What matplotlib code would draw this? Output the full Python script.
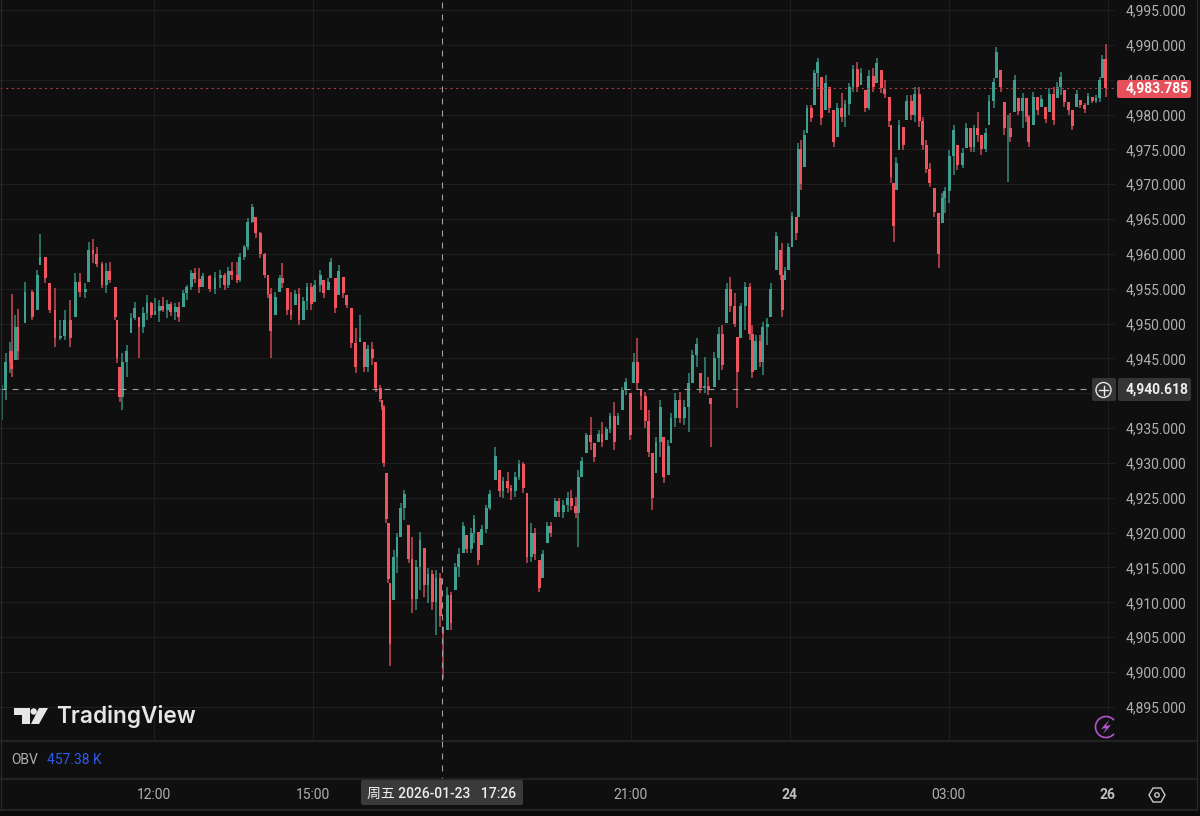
import numpy as np
import matplotlib
matplotlib.use("Agg")
import matplotlib.pyplot as plt
from matplotlib.patches import FancyBboxPatch, Polygon, Circle, Arc, Rectangle

plt.rcParams['font.family'] = ['Roboto', 'Noto Sans CJK SC', 'DejaVu Sans']

# bar time in minutes after 09:00
minutes = [8, 12, 17, 19, 23, 26, 34, 42, 48, 51, 57,
           62, 68, 74, 79, 85, 91, 96, 102, 106, 111, 115,
           121, 126, 130, 136, 138, 141, 144, 149, 154, 158, 163, 168, 172, 177,
           181, 186, 190, 195, 199, 204, 208, 213, 217, 222, 226, 231, 235,
           243, 249, 255, 260, 264, 268, 274, 277, 282, 286, 291, 295,
           300, 305, 309, 312, 317, 322, 325, 331, 335, 340, 344, 349, 353, 358,
           362, 368, 372, 377, 380, 385, 389, 394, 398, 403, 408, 413, 418,
           422, 427, 431, 436, 438, 440, 443, 445, 447, 451, 455, 459, 463, 468, 472, 477,
           481, 486, 490, 495, 499, 504, 507, 512, 516, 521, 525, 530, 534, 539,
           542, 547, 551, 556, 560, 566, 571, 575, 580, 584, 589, 593, 598,
           602, 607, 611, 616, 620, 625, 629, 634, 638, 643, 648, 652, 657,
           660, 664, 669, 674, 678, 683, 687, 692, 696, 701, 705, 710, 714, 719,
           723, 727, 731, 736, 740, 744, 748, 753, 757, 762, 765, 770, 775,
           780, 785, 789, 794, 798, 803, 807, 810, 814, 819, 823, 828, 832, 837,
           840, 844, 849, 854, 857, 861, 866, 869, 874, 878, 884, 889, 891, 894, 898,
           902, 907, 909, 912, 916, 919, 924, 927, 931, 935, 940, 944, 949, 953, 958,
           962, 967, 971, 976, 980, 985, 989, 994, 998, 1003, 1007, 1012, 1014, 1017,
           1020, 1023, 1028, 1032, 1037, 1041, 1046, 1050, 1054, 1058, 1063, 1068, 1072, 1075,
           1080, 1085, 1089, 1095, 1099, 1104, 1108, 1112, 1116, 1121, 1125, 1130, 1133,
           1138, 1142, 1146, 1149, 1154, 1158, 1163, 1167, 1170, 1175, 1180, 1184, 1189,
           1193, 1198, 1202, 1206, 1210, 1215, 1219, 1224, 1228, 1233, 1237, 1242, 1246, 1250, 1253, 1257]

highs = [4941.2, 4945.8, 4947.4, 4954.2, 4951.2, 4952.1, 4956.0, 4954.8, 4957.7, 4962.8, 4959.6,
         4955.8, 4955.1, 4950.5, 4951.9, 4953.4, 4957.3, 4957.3, 4955.8, 4961.7, 4962.1, 4961.0,
         4958.8, 4958.7, 4958.8, 4955.2, 4950.5, 4943.8, 4945.8, 4946.9, 4951.5, 4953.1, 4950.9, 4952.4, 4954.1, 4953.1,
         4953.7, 4953.4, 4953.8, 4953.4, 4953.1, 4953.0, 4953.1, 4954.8, 4955.5, 4957.7, 4958.0, 4958.0, 4957.3,
         4957.0, 4957.4, 4957.7, 4957.3, 4958.1, 4958.8, 4958.8, 4960.1, 4961.3, 4965.1, 4967.2, 4965.3,
         4963.1, 4960.1, 4957.0, 4955.1, 4954.5, 4957.0, 4958.7, 4955.1, 4954.5, 4954.8, 4955.1, 4953.8, 4955.8, 4955.8,
         4956.3, 4957.7, 4956.3, 4956.5, 4959.4, 4956.5, 4958.4, 4956.7, 4954.1, 4952.2, 4949.4, 4951.2, 4947.4,
         4946.9, 4947.4, 4944.5, 4941.2, 4939.0, 4938.3, 4928.6, 4921.4, 4912.8, 4917.5, 4920.0, 4924.2, 4926.1, 4921.1, 4919.4, 4916.1,
         4920.1, 4917.8, 4914.9, 4914.6, 4914.6, 4914.2, 4906.5, 4912.2, 4911.5, 4915.6, 4917.8, 4921.5, 4919.6, 4920.7,
         4922.5, 4920.1, 4921.1, 4924.0, 4926.1, 4932.3, 4929.0, 4928.0, 4928.7, 4926.8, 4928.7, 4930.4, 4930.1,
         4925.7, 4921.4, 4920.7, 4916.1, 4917.5, 4921.5, 4921.5, 4925.0, 4925.0, 4924.7, 4925.8, 4926.1, 4925.1,
         4929.0, 4930.8, 4934.3, 4936.6, 4932.9, 4934.7, 4935.9, 4935.2, 4937.2, 4938.8, 4937.2, 4940.9, 4942.2, 4940.0,
         4945.8, 4947.9, 4940.5, 4940.2, 4937.6, 4931.4, 4933.7, 4939.0, 4933.7, 4933.3, 4937.2, 4940.0, 4940.2,
         4939.0, 4942.9, 4946.2, 4947.9, 4942.9, 4945.2, 4942.3, 4939.3, 4945.9, 4949.5, 4949.8, 4955.8, 4956.7, 4954.4,
         4948.1, 4953.0, 4956.0, 4955.8, 4949.8, 4948.4, 4948.4, 4950.2, 4950.8, 4955.8, 4963.1, 4960.6, 4961.6, 4958.1, 4961.6,
         4966.0, 4965.3, 4975.9, 4976.3, 4977.8, 4981.4, 4981.4, 4986.4, 4988.1, 4985.4, 4985.7, 4983.9, 4980.6, 4981.6, 4983.1,
         4982.1, 4984.5, 4987.1, 4987.5, 4986.7, 4983.5, 4986.4, 4986.7, 4988.1, 4986.4, 4984.9, 4982.5, 4978.5, 4970.2,
         4973.9, 4979.2, 4978.2, 4982.8, 4982.8, 4983.9, 4983.9, 4979.6, 4976.3, 4973.0, 4969.5, 4965.9, 4968.7, 4969.6,
         4974.9, 4978.5, 4975.6, 4975.2, 4978.8, 4978.1, 4978.5, 4980.4, 4977.1, 4978.1, 4982.8, 4985.2, 4989.7,
         4986.4, 4981.8, 4979.9, 4980.2, 4985.7, 4982.4, 4983.1, 4982.4, 4979.9, 4983.2, 4982.5, 4982.8, 4981.1,
         4983.8, 4983.9, 4984.7, 4986.1, 4983.5, 4981.8, 4980.6, 4983.5, 4982.1, 4981.6, 4983.1, 4982.5, 4982.8, 4985.4, 4988.5, 4990.1]

lows = [4936.2, 4939.0, 4942.9, 4942.3, 4944.8, 4944.8, 4950.1, 4950.5, 4952.0, 4958.4, 4955.8,
        4951.5, 4946.6, 4947.6, 4947.6, 4946.6, 4950.9, 4953.8, 4953.7, 4956.0, 4958.7, 4958.1,
        4955.1, 4954.4, 4955.8, 4950.5, 4944.3, 4938.7, 4937.6, 4942.3, 4948.7, 4950.5, 4945.1, 4948.7, 4950.5, 4950.8,
        4951.2, 4950.2, 4951.7, 4950.8, 4951.1, 4950.5, 4950.2, 4952.4, 4953.4, 4954.8, 4955.8, 4954.4, 4955.2,
        4954.5, 4954.2, 4955.1, 4954.8, 4955.1, 4956.3, 4955.8, 4956.0, 4959.1, 4960.6, 4964.4, 4962.3,
        4959.4, 4956.5, 4953.7, 4945.1, 4951.2, 4954.5, 4955.1, 4951.2, 4950.5, 4952.7, 4949.8, 4950.5, 4951.9, 4951.9,
        4953.1, 4954.5, 4953.7, 4954.8, 4956.5, 4951.5, 4954.1, 4953.7, 4952.2, 4946.5, 4942.9, 4947.4, 4943.0,
        4943.0, 4944.1, 4940.2, 4938.7, 4937.6, 4929.4, 4921.4, 4912.8, 4900.9, 4910.3, 4914.2, 4919.4, 4921.8, 4915.6, 4908.5, 4908.9,
        4911.8, 4910.8, 4909.9, 4908.9, 4905.3, 4906.5, 4899.0, 4906.0, 4906.0, 4911.8, 4913.6, 4917.1, 4917.1, 4917.1,
        4918.5, 4915.4, 4918.2, 4920.0, 4923.2, 4927.5, 4925.1, 4925.0, 4925.7, 4924.7, 4925.1, 4927.5, 4925.7,
        4915.6, 4915.8, 4916.1, 4911.5, 4913.5, 4918.5, 4919.4, 4922.2, 4922.2, 4922.1, 4923.0, 4923.2, 4922.1,
        4917.9, 4928.0, 4931.4, 4931.9, 4930.1, 4933.0, 4932.3, 4933.3, 4934.3, 4931.9, 4935.4, 4937.6, 4939.7, 4933.3,
        4941.5, 4940.5, 4937.6, 4935.0, 4930.8, 4923.3, 4928.6, 4930.8, 4927.1, 4928.3, 4932.9, 4935.2, 4935.7,
        4935.4, 4934.4, 4941.5, 4943.8, 4940.0, 4940.0, 4939.7, 4932.3, 4940.9, 4941.9, 4943.3, 4950.1, 4951.7, 4949.5,
        4937.9, 4947.9, 4949.1, 4947.6, 4942.2, 4943.3, 4943.8, 4942.6, 4946.9, 4950.9, 4957.7, 4956.3, 4950.9, 4956.3, 4957.7,
        4961.0, 4962.0, 4965.3, 4969.2, 4972.5, 4977.3, 4978.9, 4981.4, 4983.9, 4978.5, 4980.6, 4980.2, 4975.3, 4976.8, 4978.9,
        4978.2, 4979.9, 4983.2, 4983.2, 4984.2, 4980.4, 4980.6, 4983.2, 4984.5, 4983.1, 4982.4, 4978.2, 4970.2, 4961.7,
        4969.2, 4974.9, 4974.9, 4979.2, 4979.2, 4978.9, 4978.2, 4974.9, 4971.6, 4969.6, 4965.3, 4958.0, 4964.4, 4965.9,
        4967.3, 4971.3, 4972.0, 4972.3, 4975.2, 4974.6, 4974.6, 4976.1, 4974.2, 4974.6, 4978.5, 4980.9, 4985.2,
        4983.2, 4977.1, 4970.3, 4976.1, 4980.4, 4979.9, 4978.1, 4978.9, 4975.3, 4978.5, 4979.9, 4981.1, 4978.8,
        4980.4, 4978.5, 4982.4, 4982.8, 4981.1, 4979.9, 4977.8, 4981.1, 4980.9, 4980.2, 4981.4, 4981.6, 4981.6, 4981.8, 4985.2, 4982.5]

closes = [4940.5, 4944.5, 4946.0, 4943.5, 4949.5, 4946.0, 4954.5, 4951.0, 4957.0, 4959.5, 4956.5,
          4952.0, 4948.0, 4948.2, 4950.5, 4948.0, 4956.0, 4954.5, 4955.0, 4960.5, 4960.0, 4958.6,
          4955.6, 4957.5, 4956.2, 4951.0, 4945.0, 4939.5, 4944.5, 4946.0, 4950.8, 4952.3, 4949.5, 4951.5, 4953.0, 4951.3,
          4951.8, 4952.5, 4952.0, 4952.8, 4951.6, 4952.4, 4951.0, 4954.4, 4955.2, 4957.3, 4956.4, 4955.2, 4956.8,
          4955.0, 4956.6, 4957.0, 4955.6, 4957.5, 4957.0, 4956.2, 4959.5, 4961.0, 4964.6, 4966.8, 4963.0,
          4960.0, 4957.0, 4954.2, 4949.0, 4953.8, 4956.5, 4955.8, 4952.0, 4951.2, 4954.2, 4950.5, 4953.2, 4955.2, 4952.8,
          4955.6, 4957.0, 4954.4, 4956.0, 4958.8, 4952.2, 4957.6, 4954.4, 4952.6, 4947.2, 4943.8, 4948.0, 4943.8,
          4946.3, 4945.0, 4940.8, 4939.2, 4938.0, 4930.0, 4922.0, 4913.4, 4904.0, 4916.5, 4919.4, 4923.5, 4925.6, 4916.2, 4910.5, 4915.0,
          4919.0, 4912.5, 4914.0, 4910.0, 4913.5, 4908.0, 4905.5, 4911.0, 4907.0, 4915.0, 4917.0, 4921.0, 4917.6, 4920.0,
          4922.0, 4916.0, 4920.5, 4923.5, 4925.6, 4931.0, 4926.0, 4927.4, 4926.4, 4926.0, 4928.0, 4929.8, 4926.4,
          4916.5, 4920.0, 4917.0, 4912.0, 4917.0, 4921.0, 4920.0, 4924.5, 4923.0, 4924.0, 4925.0, 4923.8, 4922.8,
          4928.0, 4930.3, 4934.0, 4933.0, 4930.8, 4934.2, 4933.0, 4934.8, 4936.8, 4933.0, 4936.8, 4940.4, 4941.6, 4934.0,
          4944.5, 4941.5, 4939.6, 4936.0, 4931.5, 4925.0, 4933.0, 4938.0, 4928.0, 4932.5, 4936.5, 4939.0, 4936.5,
          4938.0, 4941.5, 4945.5, 4947.0, 4940.8, 4941.0, 4940.4, 4938.4, 4945.0, 4948.5, 4944.0, 4955.0, 4952.5, 4950.0,
          4943.0, 4952.5, 4955.3, 4948.5, 4943.0, 4947.5, 4944.5, 4949.5, 4950.0, 4955.0, 4962.5, 4957.0, 4952.0, 4957.6, 4961.0,
          4965.5, 4963.0, 4975.0, 4970.0, 4977.0, 4981.0, 4979.5, 4986.0, 4987.5, 4979.5, 4984.5, 4981.0, 4976.0, 4981.0, 4979.6,
          4981.5, 4984.0, 4986.5, 4984.0, 4986.0, 4981.0, 4985.5, 4984.0, 4987.4, 4983.8, 4983.0, 4979.0, 4971.0, 4964.0,
          4973.0, 4978.5, 4975.6, 4982.0, 4980.0, 4983.0, 4979.0, 4975.6, 4972.2, 4970.2, 4966.0, 4960.0, 4968.0, 4969.0,
          4974.0, 4977.8, 4972.8, 4974.5, 4978.0, 4975.4, 4978.0, 4977.0, 4975.0, 4977.4, 4982.0, 4984.6, 4989.0,
          4984.0, 4978.0, 4978.0, 4976.8, 4985.0, 4980.5, 4982.4, 4979.6, 4976.0, 4982.5, 4980.6, 4982.2, 4979.4,
          4983.0, 4979.2, 4984.0, 4985.4, 4981.8, 4980.6, 4978.4, 4983.0, 4981.4, 4980.8, 4982.6, 4982.0, 4982.4, 4985.0, 4988.0, 4983.785]

price_ticks = [4995, 4990, 4985, 4980, 4975, 4970, 4965, 4960, 4955, 4950, 4945, 4940, 4935,
               4930, 4925, 4920, 4915, 4910, 4905, 4900, 4895]
time_ticks = [180, 360, 720, 900, 1080, 1260]
time_labels = ['12:00', '15:00', '21:00', '24', '03:00', '26']
last_price = 4983.785
cross_price = 4940.618
cross_minute = 506

BG = '#0f0f0f'
UP = '#3f9e8d'
DOWN = '#f0545e'
UP_WICK = '#2f7d70'
DOWN_WICK = '#b8424b'
GRID = '#1e1e1e'
TEXT = '#b0b0b0'


def candles(ax):
    t = np.array(minutes, dtype=float)
    h = np.array(highs)
    l = np.array(lows)
    c = np.array(closes)
    o = np.clip(np.r_[c[0], c[:-1]], l, h)
    up = c >= o
    ax.vlines(t[up], l[up], h[up], color=UP_WICK, lw=1.25, zorder=2)
    ax.vlines(t[~up], l[~up], h[~up], color=DOWN_WICK, lw=1.25, zorder=2)
    w = 3.2
    ax.bar(t[up], np.abs(c - o)[up], bottom=np.minimum(o, c)[up], width=w, color=UP, lw=0, zorder=3)
    ax.bar(t[~up], np.abs(c - o)[~up], bottom=np.minimum(o, c)[~up], width=w, color=DOWN, lw=0, zorder=3)


def main_pane(fig):
    ax = fig.add_axes([0, 1 - 740 / 816, 1115 / 1200, 740 / 816], facecolor=BG)
    ax.set_xlim(5.66, 1267.5)
    ax.set_ylim(4890.24, 4996.435)
    for s in ax.spines.values():
        s.set_visible(False)
    ax.set_xticks(time_ticks)
    ax.set_yticks(price_ticks)
    ax.set_xticklabels([])
    ax.yaxis.tick_right()
    # 4,940 sits hidden behind the crosshair label
    ax.set_yticklabels(['' if p == 4940 else '{:,.3f}'.format(p) for p in price_ticks])
    ax.tick_params(axis='y', length=0, pad=8, labelsize=10, labelcolor=TEXT)
    ax.tick_params(axis='x', length=0)
    ax.grid(True, color=GRID, lw=0.8)
    ax.set_axisbelow(True)
    candles(ax)
    ax.axhline(last_price, color='#a83c44', lw=0.8, dashes=(2, 3), zorder=4)
    ax.axhline(cross_price, xmax=1090 / 1115, color='#a0a0a0', lw=0.8, dashes=(5.4, 5.4), zorder=5)
    ax.plot([cross_minute, cross_minute], [4890.24, 4996.435], color='#a0a0a0', lw=0.8,
            dashes=(5.4, 5.4), zorder=5)
    return ax


def overlay(fig):
    ov = fig.add_axes([0, 0, 1, 1], facecolor='none')
    ov.set_xlim(0, 1200)
    ov.set_ylim(816, 0)
    ov.axis('off')

    # pane separators and bottom strip
    ov.add_patch(Rectangle((0, 810), 1200, 6, color='#0a0a0a', lw=0))
    for y in [741, 779, 810]:
        ov.plot([0, 1197], [y, y], color='#2a2a2a', lw=1.1)
    ov.plot([1, 1], [0, 810], color='#2a2a2a', lw=0.9)
    ov.plot([1197, 1197], [0, 810], color='#2a2a2a', lw=0.9)
    ov.plot([442, 442], [741, 778], color='#a0a0a0', lw=0.8, dashes=(5.4, 5.4))

    # OBV legend
    ov.text(11, 760, 'OBV', color=TEXT, fontsize=10, va='center')
    ov.text(47, 760, '457.38 K', color='#2f5bea', fontsize=10, va='center')

    # time axis
    xs = [154, 313, 631, 789, 948, 1107]
    for x, lab in zip(xs, time_labels):
        bold = lab in ('24', '26')
        ov.text(x, 795, lab, color='#c0c0c0' if bold else TEXT, fontsize=10, ha='center', va='center',
                fontweight='bold' if bold else 'normal')
    ov.add_patch(FancyBboxPatch((361, 780), 162, 25, boxstyle='round,pad=0,rounding_size=2',
                                color='#3a3a3a', lw=0))
    ov.text(442, 794, '周五 2026-01-23   17:26', color='#eeeeee', fontsize=10, ha='center', va='center',
            fontweight='medium', family=['Roboto', 'Noto Sans CJK SC', 'DejaVu Sans'])

    # last price and crosshair labels
    ov.add_patch(FancyBboxPatch((1117, 80), 74, 18, boxstyle='round,pad=0,rounding_size=2',
                                color='#e5505a', lw=0, zorder=6))
    ov.text(1126, 89, '4,983.785', color='white', fontsize=10, ha='left', va='center',
            fontweight='bold', zorder=7)
    ov.add_patch(FancyBboxPatch((1118, 378), 73, 23, boxstyle='round,pad=0,rounding_size=2',
                                color='#353535', lw=0, zorder=6))
    ov.text(1126, 390, '4,940.618', color='#eeeeee', fontsize=10, ha='left', va='center',
            fontweight='bold', zorder=7)
    ov.add_patch(FancyBboxPatch((1092, 378), 24, 23, boxstyle='round,pad=0,rounding_size=2',
                                color='#353535', lw=0, zorder=6))
    ov.add_patch(Circle((1103.5, 390), 7.5, fc='none', ec='#e8e8e8', lw=1, zorder=7))
    ov.plot([1099, 1108], [390, 390], color='#e8e8e8', lw=1, zorder=7)
    ov.plot([1103.5, 1103.5], [385.5, 394.5], color='#e8e8e8', lw=1, zorder=7)

    # settings hexagon
    hx = [1149, 1153, 1161, 1165, 1161, 1153]
    hy = [795, 788, 788, 795, 802, 802]
    ov.add_patch(Polygon(list(zip(hx, hy)), closed=True, fc='none', ec='#c8c8c8', lw=1))
    ov.add_patch(Circle((1157, 795), 2.2, fc='none', ec='#c8c8c8', lw=1))

    # lightning badge
    ov.add_patch(Arc((1106, 727), 21, 21, theta1=40, theta2=320, ec='#b455d0', lw=1.2))
    ov.add_patch(Polygon([(1109, 720), (1101, 729), (1106, 728), (1103, 734), (1111, 725), (1106, 726)],
                         closed=True, color='#b455d0', lw=0))

    # TradingView mark
    ov.add_patch(Polygon([(14, 708), (30, 708), (30, 724), (22, 724), (22, 715), (14, 715)],
                         closed=True, color='#e6e6e6', lw=0))
    ov.add_patch(Circle((33.7, 711.5), 3.2, color='#e6e6e6', lw=0))
    ov.add_patch(Polygon([(39, 708), (48, 708), (39, 724), (31, 724)], closed=True, color='#e6e6e6', lw=0))
    ov.text(56, 717, 'TradingView', color='#e6e6e6', fontsize=16.3, va='center', fontweight='semibold',
            family='Inter')


def main():
    fig = plt.figure(figsize=(12, 8.16), dpi=100, facecolor=BG)
    main_pane(fig)
    overlay(fig)
    fig.savefig('out.png', dpi=100, facecolor=BG)


main()
